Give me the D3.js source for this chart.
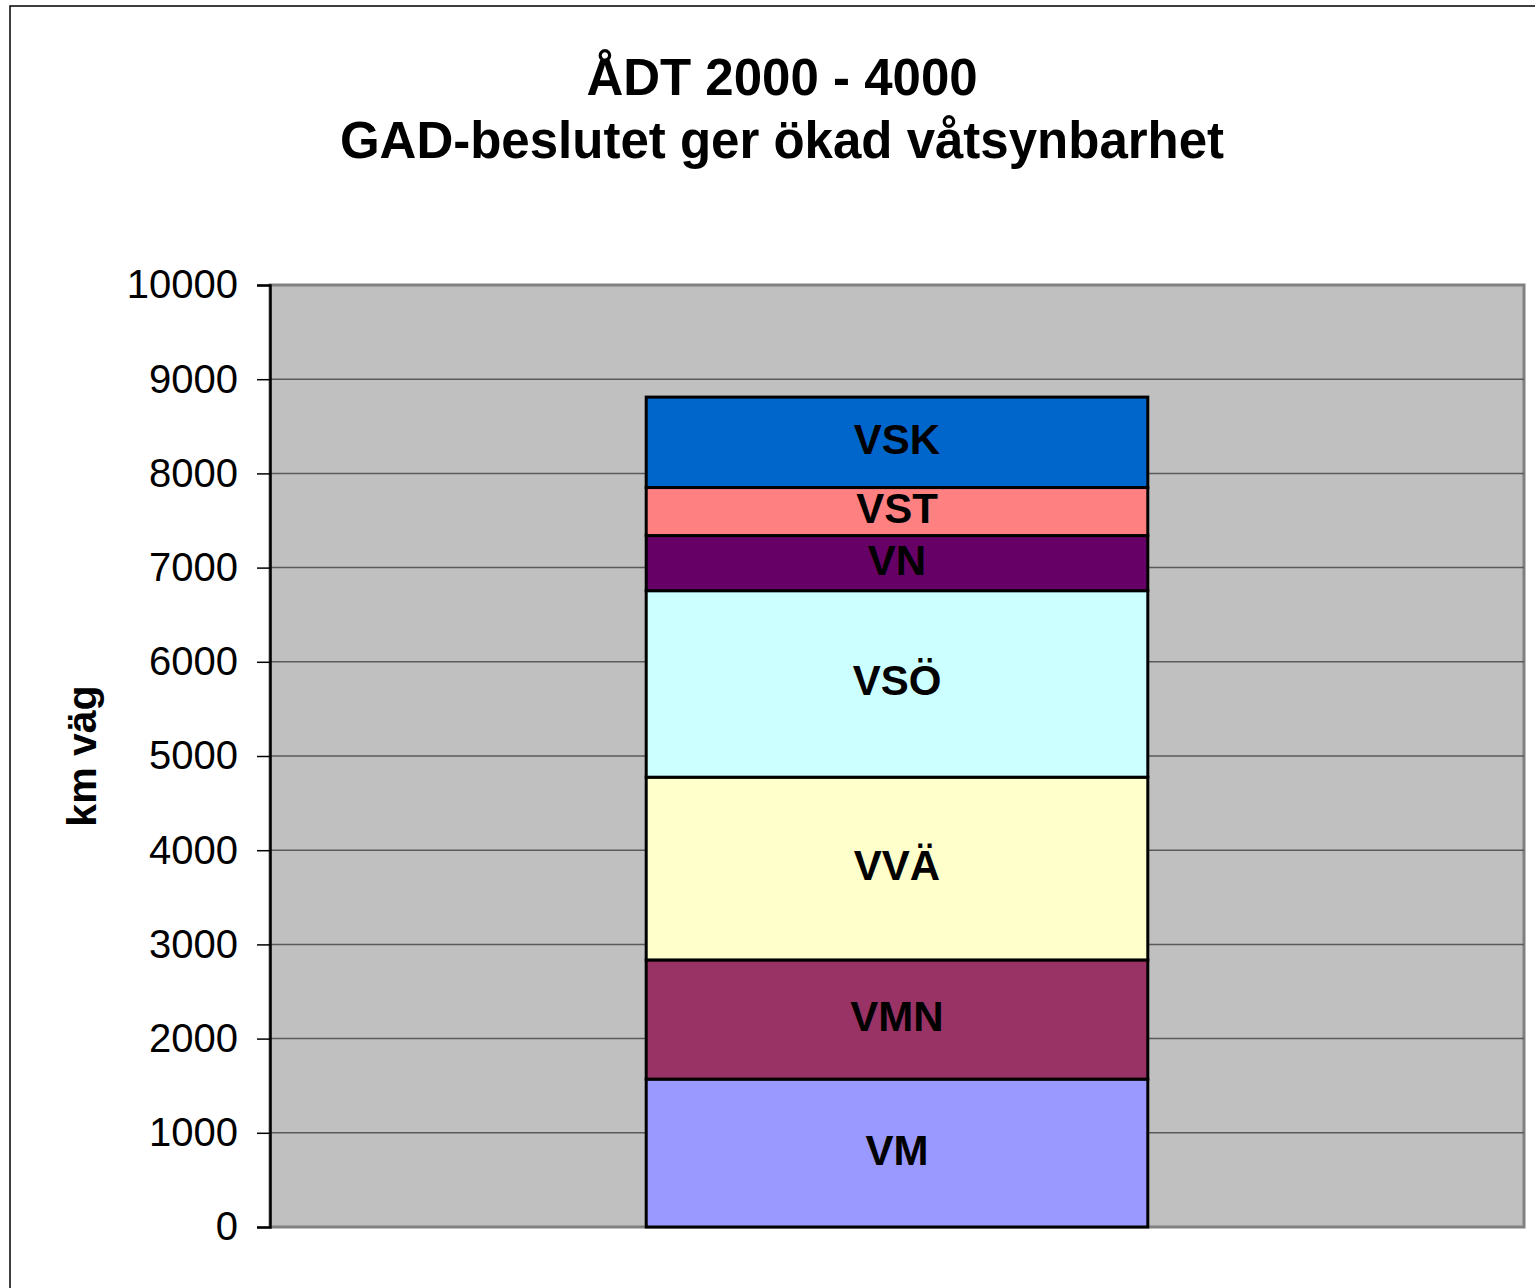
<!DOCTYPE html>
<meta charset="utf-8" />
<style>
    body { margin: 0; background: #fff; }
    text { font-family: "Liberation Sans", Arial, sans-serif; }
</style>
<svg width="1535" height="1288"></svg>
<script src="https://d3js.org/d3.v7.min.js"></script>
<script>
    // data: km road per region, stacked bottom to top
    var categories = ["ÅDT 2000 - 4000"];
    var regions = ["VM", "VMN", "VVÄ", "VSÖ", "VN", "VST", "VSK"];
    var kmValues = [1570, 1265, 1940, 1980, 585, 510, 960];
    var regionColors = ["#9999ff", "#993366", "#ffffcc", "#ccffff", "#660066", "#ff8080", "#0066cc"];
    var yTicks = [0, 1000, 2000, 3000, 4000, 5000, 6000, 7000, 8000, 9000, 10000];

    var svg = d3.select("svg");

    // outer chart frame (right / bottom edges run off the page)
    svg.append("rect")
        .attr("x", 10).attr("y", 6)
        .attr("width", 1700).attr("height", 1500)
        .attr("fill", "#fff")
        .attr("stroke", "#000")
        .attr("stroke-width", 1.5);

    var plot = { left: 270, top: 285, right: 1524, bottom: 1227 };

    var x = d3.scaleBand()
        .domain(categories)
        .range([plot.left, plot.right])
        .padding(0.6 / 1.4);

    var y = d3.scaleLinear()
        .domain([0, 10000])
        .range([plot.bottom, plot.top]);

    // plot background
    svg.append("rect")
        .attr("x", plot.left).attr("y", plot.top)
        .attr("width", plot.right - plot.left)
        .attr("height", plot.bottom - plot.top)
        .attr("fill", "#c0c0c0")
        .attr("stroke", "#808080")
        .attr("stroke-width", 3);

    // gridlines
    svg.append("g")
        .selectAll("line")
        .data(yTicks.filter(function (d) { return d > 0 && d < 10000; }))
        .enter()
        .append("line")
        .attr("x1", plot.left).attr("x2", plot.right)
        .attr("y1", function (d) { return y(d); })
        .attr("y2", function (d) { return y(d); })
        .attr("stroke", "#5a5a5a")
        .attr("stroke-width", 1.5);

    // y axis
    var yAxis = svg.append("g")
        .attr("transform", "translate(" + plot.left + ",0)")
        .call(d3.axisLeft(y).tickValues(yTicks).tickSize(13).tickPadding(19).tickFormat(d3.format("d")));
    yAxis.select(".domain").attr("stroke", "#000").attr("stroke-width", 2.5);
    yAxis.selectAll(".tick line").attr("stroke", "#000").attr("stroke-width", 1.5);
    yAxis.selectAll(".tick text")
        .attr("fill", "#000")
        .style("font-size", "40px")
        .style("font-family", "'Liberation Sans', Arial, sans-serif");

    // stacked segments
    var stackRow = {};
    regions.forEach(function (r, i) { stackRow[r] = kmValues[i]; });
    var series = d3.stack().keys(regions)([stackRow]);

    var seg = svg.append("g")
        .selectAll("g")
        .data(series)
        .enter()
        .append("g");

    seg.append("rect")
        .attr("x", x(categories[0]))
        .attr("width", x.bandwidth())
        .attr("y", function (d) { return y(d[0][1]); })
        .attr("height", function (d) { return y(d[0][0]) - y(d[0][1]); })
        .attr("fill", function (d, i) { return regionColors[i]; })
        .attr("stroke", "#000")
        .attr("stroke-width", 3);

    seg.append("text")
        .attr("x", x(categories[0]) + x.bandwidth() / 2)
        .attr("y", function (d) { return (y(d[0][0]) + y(d[0][1])) / 2 - 3; })
        .attr("text-anchor", "middle")
        .attr("dominant-baseline", "central")
        .style("font-size", "42px")
        .style("font-weight", "bold")
        .text(function (d) { return d.key; });

    // title
    svg.append("text")
        .attr("x", 782).attr("y", 95)
        .attr("text-anchor", "middle")
        .style("font-size", "51px").style("font-weight", "bold")
        .text("ÅDT 2000 - 4000");
    svg.append("text")
        .attr("x", 782).attr("y", 158)
        .attr("text-anchor", "middle")
        .style("font-size", "51px").style("font-weight", "bold")
        .text("GAD-beslutet ger ökad våtsynbarhet");

    // y axis title
    svg.append("text")
        .attr("transform", "translate(96,756) rotate(-90)")
        .attr("text-anchor", "middle")
        .style("font-size", "41px").style("font-weight", "bold")
        .text("km väg");
</script>
